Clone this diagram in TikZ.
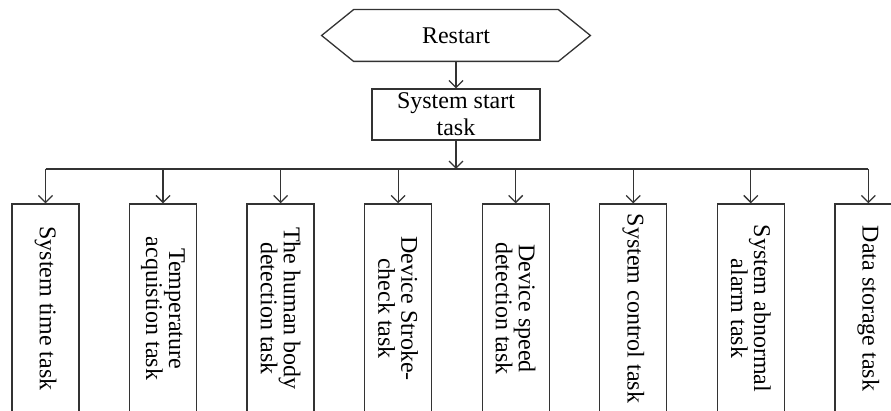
\documentclass[tikz,border=0pt]{standalone}
\usepackage{fontspec}
\setmainfont{Liberation Serif}
\usetikzlibrary{arrows.meta}
\begin{document}
\begin{tikzpicture}[x=0.5pt,y=-0.5pt,
  line/.style={draw=black!80, line width=0.65pt},
  arr/.style={line, -{Straight Barb[length=3.5pt,width=7pt]}},
  every node/.style={font=\fontsize{12}{13.5}\selectfont},
  taskbox/.style={line, rotate=-90, minimum width=104.5pt, minimum height=33.5pt,
    inner sep=1pt, align=center, font=\fontsize{12}{11.5}\selectfont}]
\useasboundingbox (0,0) rectangle (891,411);
\clip (0,0) rectangle (891,411);

% start terminator (hexagon)
\node[minimum width=134pt, minimum height=25.5pt, inner sep=0pt] (rs) at (456,35.5) {Restart};
\draw[line] (rs.west) -- ([xshift=16pt]rs.north west) -- ([xshift=-16pt]rs.north east)
  -- (rs.east) -- ([xshift=-16pt]rs.south east) -- ([xshift=16pt]rs.south west) -- cycle;

% system start task
\node[line, minimum width=84pt, minimum height=25.5pt, inner sep=0pt, align=center]
  (sst) at (456,114.5) {System start\\task};
\draw[arr] (rs) -- (sst);

% distribution bus
\coordinate (bus) at (456,169);
\draw[arr] (sst) -- (bus);

% task boxes
\foreach \i/\t [evaluate=\i as \xx using 45.5+117.55*(\i-1)] in {
    1/{System time task},
    2/{Temperature\\acquistion task},
    3/{The human body\\detection task},
    4/{Device Stroke-\\check task},
    5/{Device speed\\detection task},
    6/{System control task},
    7/{System abnormal\\alarm task},
    8/{Data storage task}} {
  \node[taskbox] (c\i) at (\xx,308.5) {\t};
  \draw[arr] (c\i |- bus) -- (c\i);
}
\draw[line] (c1 |- bus) -- (c8 |- bus);
\end{tikzpicture}
\end{document}
